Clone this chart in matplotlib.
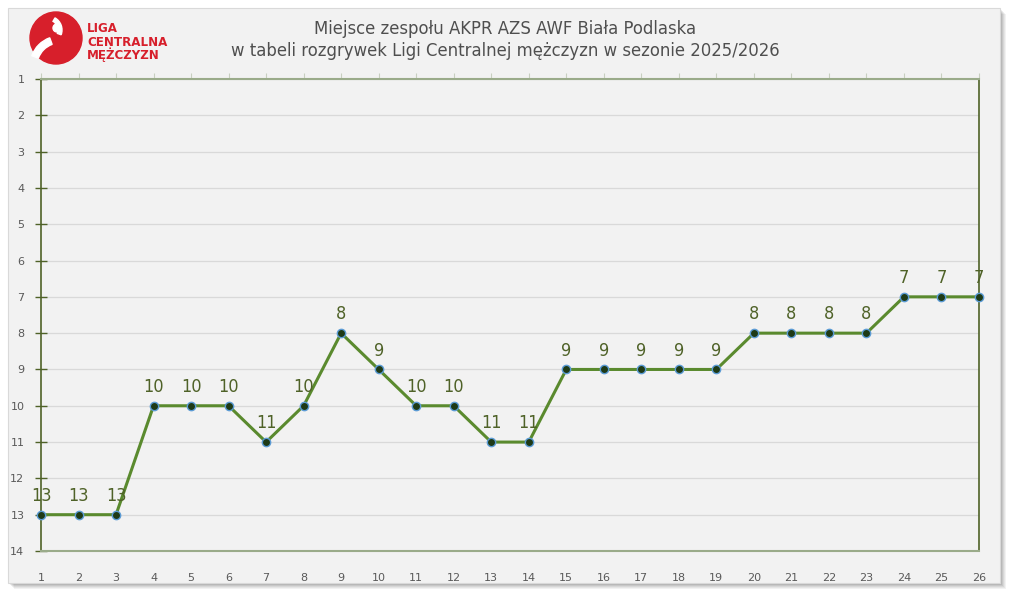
import matplotlib.pyplot as plt
from matplotlib.patches import Rectangle, Circle, Wedge

# --- Data ---
rounds = list(range(1, 27))
places = [13, 13, 13, 10, 10, 10, 11, 10, 8, 9, 10, 10, 11,
          11, 9, 9, 9, 9, 9, 8, 8, 8, 8, 7, 7, 7]
y_ticks = list(range(1, 15))
title_lines = ["Miejsce zespołu AKPR AZS AWF Biała Podlaska",
               "w tabeli rozgrywek Ligi Centralnej mężczyzn w sezonie 2025/2026"]
logo_lines = ["LIGA", "CENTRALNA", "MĘŻCZYZN"]

W, H = 1013, 591
fig = plt.figure(figsize=(W / 100, H / 100), dpi=100)
fig.patch.set_facecolor("white")

# panel with soft shadow
for i, a in enumerate([0.05, 0.05, 0.06, 0.07, 0.08]):
    off = 6 - i
    fig.patches.append(Rectangle(((8 + off) / W, 1 - (583 + off) / H),
                                 992 / W, 575 / H, transform=fig.transFigure,
                                 facecolor="black", alpha=a, edgecolor="none", zorder=-3))
fig.patches.append(Rectangle((8 / W, 1 - 583 / H), 992 / W, 575 / H,
                             transform=fig.transFigure, facecolor="#f2f2f2",
                             edgecolor="#d9d9d9", linewidth=0.8, zorder=-2))

# title
for k, line in enumerate(title_lines):
    fig.text(505 / W, 1 - (29 + 22 * k) / H, line, ha="center", va="center",
             fontsize=11.9, color="#4f4f4f", family="DejaVu Sans", zorder=5)

# logo
logo = fig.add_axes([0, 1 - 72 / H, 180 / W, 72 / H])
logo.set_xlim(0, 180)
logo.set_ylim(72, 0)
logo.set_aspect("equal")
logo.axis("off")
logo.add_patch(Circle((56, 38), 26, color="#d71f2b"))
logo.add_patch(Wedge((60, 66), 30, 200, 250, width=7, color="white"))
logo.add_patch(Circle((57, 28), 4, color="white"))
logo.add_patch(Wedge((48, 30), 14, 300, 20, width=4, color="white"))
for k, t in enumerate(logo_lines):
    logo.text(87, 29 + 13 * k, t, ha="left", va="center", fontsize=8.6,
              fontweight="bold", color="#d71f2b", family="DejaVu Sans")

# main axes
ax = fig.add_axes([41 / W, 1 - 551 / H, (979 - 41) / W, (551 - 79) / H])
ax.set_facecolor("none")
ax.set_xlim(1, 26)
ax.set_ylim(14, 1)

ax.plot(rounds, places, color="#5a8a2e", linewidth=2.2, zorder=3,
        marker="o", markersize=6, markerfacecolor="#1e3a16",
        markeredgecolor="#5b9bd5", markeredgewidth=1.0, clip_on=False)

for x, y in zip(rounds, places):
    ax.text(x, y - 0.52, str(y), ha="center", va="center", fontsize=13,
            color="#4f6228", family="DejaVu Sans", fontstretch="condensed",
            zorder=4)

ax.set_yticks(y_ticks)
ax.set_xticks(rounds)
ax.yaxis.grid(True, color="#d9d9d9", linewidth=0.9)
ax.set_axisbelow(True)

for s in ["top", "bottom"]:
    ax.spines[s].set_color("#9aab8a")
    ax.spines[s].set_linewidth(1.5)
for s in ["left", "right"]:
    ax.spines[s].set_color("#4f6228")
    ax.spines[s].set_linewidth(1.2)

ax.tick_params(axis="y", direction="inout", length=8, width=1, color="#4f6228",
               labelsize=8, labelcolor="#595959", pad=8)
ax.tick_params(axis="x", which="both", bottom=False, top=True, direction="out",
               length=4, color="#c8cfc0", labelsize=8, labelcolor="#595959", pad=12)

fig.savefig("out.png", dpi=100)
